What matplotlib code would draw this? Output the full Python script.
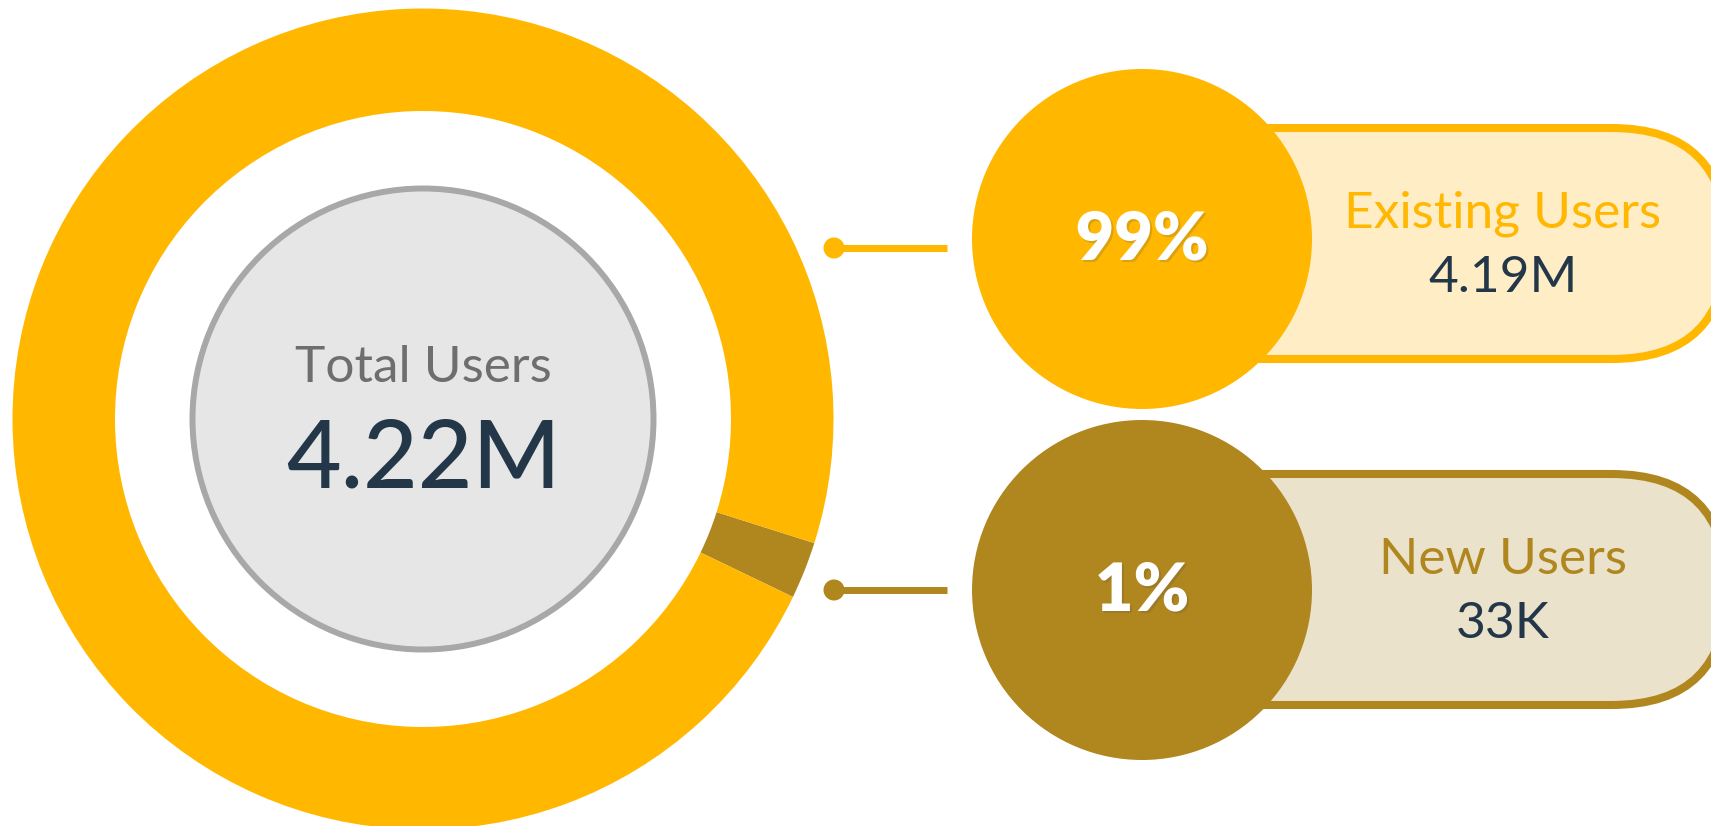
import matplotlib
matplotlib.use('Agg')  # no display
import matplotlib.pyplot as plt
import matplotlib.patheffects as pe
from matplotlib.patches import Circle, FancyBboxPatch
import numpy as np

# data
categories = ["Existing Users", "New Users"]
users = [4.19e6, 33e3]
total_label = "Total Users"

# colours
yellow = "#FFB700"
gold = "#B0861F"
pill_fills = ["#FFEDC6", "#EBE2CB"]
accent = [yellow, gold]
navy = "#233748"
font = "Lato"


def fmt(n):
    if n >= 1e6:
        return f"{n / 1e6:.2f}M"
    return f"{n / 1e3:.0f}K"


W, H = 1711, 826
fig = plt.figure(figsize=(W / 100, H / 100), dpi=100)
ax = fig.add_axes([0, 0, 1, 1])

total = sum(users)
shares = np.array(users) / total
# tiny slices get a minimum visible size, like the original dashboard
disp = np.maximum(shares, 0.0228)

# donut (y axis is flipped below, so the pie runs clockwise on screen)
cx, cy, r_out, ring = 423, 419, 410.5, 102.5
ax.pie(disp[::-1], colors=accent[::-1], startangle=17.6, center=(cx, cy),
       radius=r_out, wedgeprops=dict(width=ring, linewidth=0))

# grey centre disc
ax.add_patch(Circle((cx, cy), 230.5, facecolor="#E6E6E6", edgecolor="#A8A8A8",
                    linewidth=4.3, zorder=3))
ax.text(cx, 382, total_label, ha="center", va="baseline", fontsize=37,
        color="#6E6E6E", family=font, zorder=4)
ax.text(cx, 488, fmt(total), ha="center", va="baseline", fontsize=68,
        color=navy, family=font, fontweight="medium", zorder=4)

# legend cards
circle_y = [239, 590]
pill_top = [128, 474]
pill_h = 231
line_y = [248, 590]
for i, name in enumerate(categories):
    c = accent[i]
    # connector
    ax.plot([834, 947], [line_y[i], line_y[i]], color=c, linewidth=5,
            solid_capstyle="butt", zorder=2)
    ax.add_patch(Circle((834, line_y[i]), 10.5, facecolor=c, edgecolor="none", zorder=3))
    # pill
    ax.add_patch(FancyBboxPatch((1142, pill_top[i]), 585, pill_h,
                                boxstyle=f"round,pad=0,rounding_size={pill_h / 2}",
                                facecolor=pill_fills[i], edgecolor=c,
                                linewidth=5.8, zorder=2, mutation_aspect=1))
    # percentage disc
    ax.add_patch(Circle((1142, circle_y[i]), 170, facecolor=c, edgecolor="none", zorder=3))
    pct = f"{shares[i] * 100:.0f}%"
    ax.text(1142, circle_y[i] + 21, pct, ha="center", va="baseline", fontsize=48,
            color="white", family=font, fontweight="heavy", zorder=4,
            path_effects=[pe.SimplePatchShadow(offset=(1.5, -1.5), alpha=0.2),
                          pe.Normal()])
    mid = pill_top[i] + pill_h / 2
    ax.text(1503, mid - 16, name, ha="center", va="baseline", fontsize=37,
            color=c, family=font, zorder=4)
    ax.text(1503, mid + 49, fmt(users[i]), ha="center", va="baseline", fontsize=37,
            color=navy, family=font, zorder=4)

ax.set_xlim(0, W)
ax.set_ylim(H, 0)
ax.set_aspect("auto")
ax.axis("off")

fig.savefig("out.png", dpi=100, facecolor="white")
plt.close(fig)
